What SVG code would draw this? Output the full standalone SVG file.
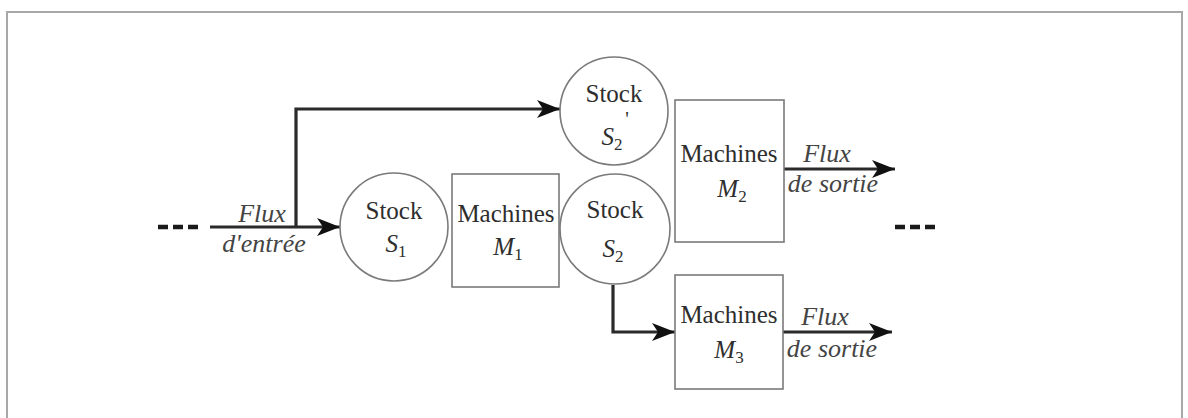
<svg xmlns="http://www.w3.org/2000/svg" width="1188" height="418" viewBox="0 0 1188 418" font-family="'Liberation Serif', 'Times New Roman', Times, serif">
<defs>
<style>
.shape{fill:#fff;stroke:#7a7a7a;stroke-width:1.6}
.conn{fill:none;stroke:#2a2a2a;stroke-width:3.2}
.dash{fill:none;stroke:#1a1a1a;stroke-width:4.5;stroke-dasharray:10 5}
.t{font-size:25px;fill:#2e2e2e;text-anchor:middle}
.i{font-style:italic}
.lbl{font-size:26px;font-style:italic;fill:#444;text-anchor:middle}
.sub{font-size:17px;font-style:normal}
</style>
<marker id="arr" markerUnits="userSpaceOnUse" markerWidth="24" markerHeight="18" refX="23" refY="9" orient="auto">
<path d="M0,0 L23,9 L0,18 L6,9 z" fill="#111"/>
</marker>
</defs>
<rect width="1188" height="418" fill="#fff"/>
<path d="M7,418 V12 H1182 V418" fill="none" stroke="#a8a8a8" stroke-width="2"/>

<g id="connectors">
<path class="dash" d="M158,227 H200"/>
<path class="dash" d="M895,227 H938"/>
<path class="conn" d="M210,227 H340" marker-end="url(#arr)"/>
<path class="conn" d="M296,227 V109 H560" marker-end="url(#arr)"/>
<path class="conn" d="M613,285 V332 H675" marker-end="url(#arr)"/>
<path class="conn" d="M784,169 H895" marker-end="url(#arr)"/>
<path class="conn" d="M783,332 H892" marker-end="url(#arr)"/>
<text class="lbl" x="262" y="222">Flux</text>
<text class="lbl" x="264" y="252">d'entrée</text>
<text class="lbl" x="827" y="162">Flux</text>
<text class="lbl" x="833" y="192">de sortie</text>
<text class="lbl" x="825" y="325">Flux</text>
<text class="lbl" x="832" y="357">de sortie</text>
</g>

<g id="stock-s1">
<circle class="shape" cx="394" cy="227" r="54"/>
<text class="t" x="394" y="219">Stock</text>
<text class="t" x="396" y="252"><tspan class="i">S</tspan><tspan class="sub" dy="5">1</tspan></text>
</g>

<g id="machines-m1">
<rect class="shape" x="452" y="174" width="107" height="113"/>
<text class="t" x="506" y="222">Machines</text>
<text class="t" x="508" y="255"><tspan class="i">M</tspan><tspan class="sub" dy="5">1</tspan></text>
</g>

<g id="stock-s2prime">
<circle class="shape" cx="614" cy="111" r="54"/>
<text class="t" x="614" y="102">Stock</text>
<text class="t" x="612" y="145"><tspan class="i">S</tspan><tspan class="sub" dy="5">2</tspan></text>
<text class="t" x="627" y="126" style="font-size:20px">'</text>
</g>

<g id="stock-s2">
<circle class="shape" cx="615" cy="229" r="55"/>
<text class="t" x="615" y="218">Stock</text>
<text class="t" x="613" y="257"><tspan class="i">S</tspan><tspan class="sub" dy="5">2</tspan></text>
</g>

<g id="machines-m2">
<rect class="shape" x="675" y="100" width="109" height="142"/>
<text class="t" x="729" y="162">Machines</text>
<text class="t" x="732" y="197"><tspan class="i">M</tspan><tspan class="sub" dy="5">2</tspan></text>
</g>

<g id="machines-m3">
<rect class="shape" x="675" y="275" width="108" height="114"/>
<text class="t" x="729" y="323">Machines</text>
<text class="t" x="729" y="358"><tspan class="i">M</tspan><tspan class="sub" dy="5">3</tspan></text>
</g>
</svg>
